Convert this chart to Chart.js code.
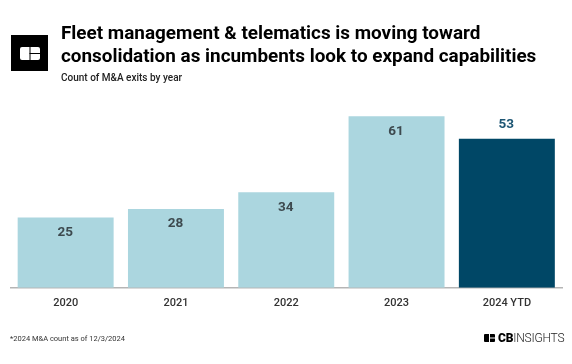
<!DOCTYPE html>
<html>
<head>
<meta charset="utf-8">
<script src="https://cdn.jsdelivr.net/npm/chart.js@4"></script>
<style>
    html, body { margin: 0; padding: 0; background: #fff; }
    body { width: 572px; height: 364px; position: relative; overflow: hidden; font-family: Roboto, sans-serif; }
    #chartBox { position: absolute; left: 0; top: 0; width: 572px; height: 364px; }
    .logo { position: absolute; left: 11px; top: 35px; width: 37px; height: 36px; background: #000; }
    .logo svg { position: absolute; left: 9px; top: 12px; }
    h1 { position: absolute; left: 61px; top: 21px; margin: 0; font-size: 18.9px; line-height: 23px; font-weight: 700; color: #000; white-space: nowrap; }
    .sub { position: absolute; left: 61px; top: 71px; font-size: 10px; line-height: 13px; font-weight: 500; color: #222; white-space: nowrap; }
    .note { position: absolute; left: 10px; top: 333px; font-size: 7.5px; line-height: 11px; color: #333; white-space: nowrap; }
    .brand { position: absolute; left: 484px; top: 331px; font-size: 12px; line-height: 14px; font-weight: 300; color: #222; white-space: nowrap; letter-spacing: -0.2px; }
    .brand b { font-weight: 900; color: #000; }
    .brand svg { position: absolute; left: 0; top: 3px; }
    .brand span { margin-left: 14px; }
</style>
</head>
<body>
<div id="chartBox"><canvas id="chartExits"></canvas></div>
<div class="logo">
    <svg width="20" height="13" viewBox="0 0 20 13">
        <rect x="0" y="0" width="20" height="13" rx="2" fill="#fff"/>
        <rect x="9.5" y="0" width="1" height="13" fill="#000"/>
        <rect x="9.5" y="6" width="10.5" height="1" fill="#000"/>
    </svg>
</div>
<h1>Fleet management &amp; telematics is moving toward<br>consolidation as incumbents look to expand capabilities</h1>
<div class="sub">Count of M&amp;A exits by year</div>
<div class="note">*2024 M&amp;A count as of 12/3/2024</div>
<div class="brand">
    <svg width="11" height="8" viewBox="0 0 11 8">
        <rect width="11" height="8" rx="1" fill="#000"/>
        <rect x="5" width="1" height="8" fill="#fff"/>
        <rect x="5" y="3.5" width="6" height="1" fill="#fff"/>
    </svg>
    <span><b>CB</b>INSIGHTS</span>
</div>
<script>
const categorias = ['2020', '2021', '2022', '2023', '2024 YTD'];
const saidas = [25, 28, 34, 61, 53];
const coresBarras = ['#abd6df', '#abd6df', '#abd6df', '#abd6df', '#004766'];
const coresRotulos = ['#3d4a4f', '#3d4a4f', '#3d4a4f', '#3d4a4f', '#1c5573'];

// escreve o valor dentro da barra (ou acima, no caso da ultima)
const rotulosBarras = {
    id: 'rotulosBarras',
    afterDatasetsDraw(chart) {
        const ctx = chart.ctx;
        const meta = chart.getDatasetMeta(0);
        ctx.save();
        ctx.font = '700 13.5px Roboto';
        ctx.textAlign = 'center';
        ctx.textBaseline = 'middle';
        meta.data.forEach(function (barra, i) {
            const desvio = i == 4 ? -14 : 15;
            ctx.fillStyle = coresRotulos[i];
            ctx.fillText(saidas[i], barra.x - 0.5, barra.y + desvio);
        });
        ctx.restore();
    }
};

new Chart(document.getElementById('chartExits'), {
    type: 'bar',
    data: {
        labels: categorias,
        datasets: [{
            data: saidas,
            backgroundColor: coresBarras,
            barPercentage: 0.87,
            categoryPercentage: 1
        }]
    },
    options: {
        responsive: true,
        maintainAspectRatio: false,
        animation: false,
        layout: { padding: { left: 10.5, right: 10, top: 91, bottom: 45 } },
        plugins: { legend: { display: false }, tooltip: { enabled: false } },
        scales: {
            x: {
                grid: { display: false, drawTicks: false },
                border: { color: '#b5b5b5', width: 1.5 },
                ticks: { color: '#333', font: { family: 'Roboto', size: 11, weight: 500 }, padding: 9, maxRotation: 0 }
            },
            y: { display: false, min: 0, max: 70 }
        }
    },
    plugins: [rotulosBarras]
});
</script>
</body>
</html>
